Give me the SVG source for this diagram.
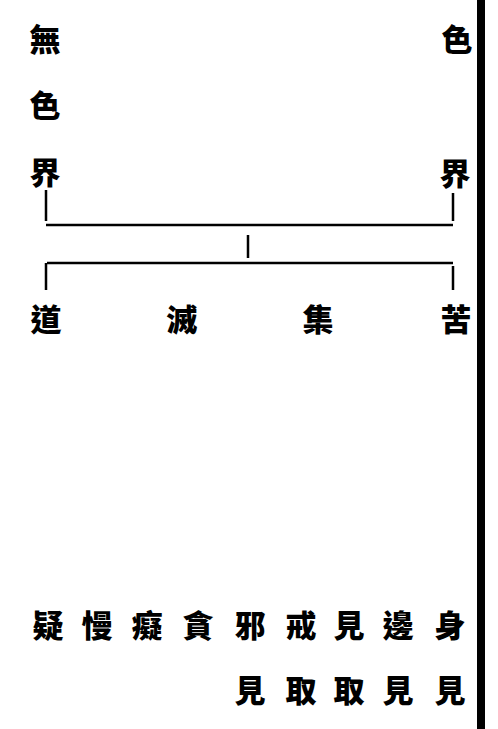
<svg xmlns="http://www.w3.org/2000/svg" width="498" height="729" viewBox="0 0 498 729">
<style>
text{font-family:"Noto Sans CJK TC","Noto Sans CJK SC",sans-serif;font-size:31px;font-weight:900;fill:#000;text-anchor:middle;dominant-baseline:central}
.ln{stroke:#000;stroke-width:2.5;fill:none}
</style>
<rect width="498" height="729" fill="#fff"/>
<rect x="477" y="0" width="8" height="729" fill="#000"/>
<g id="wuse"><text x="45" y="37">無</text><text x="45" y="103">色</text><text x="45" y="170">界</text></g>
<g id="se"><text x="457" y="37">色</text><text x="455" y="171">界</text></g>
<g id="connectors">
<path class="ln" d="M46 190V221M453 193V221M46 225H453M248 235V258M47 263H453M46 263V290M453 266V290"/>
</g>
<g id="dao"><text x="46" y="317">道</text></g>
<g id="mie"><text x="182" y="317">滅</text></g>
<g id="ji"><text x="318" y="317">集</text></g>
<g id="ku"><text x="456" y="317">苦</text></g>
<g id="fetters">
<text x="48" y="623">疑</text>
<text x="97" y="623">慢</text>
<text x="147" y="623">癡</text>
<text x="198" y="623">貪</text>
<text x="250" y="623">邪</text><text x="250" y="688">見</text>
<text x="301" y="623">戒</text><text x="301" y="688">取</text>
<text x="349" y="623">見</text><text x="349" y="688">取</text>
<text x="398" y="623">邊</text><text x="398" y="688">見</text>
<text x="450" y="623">身</text><text x="450" y="688">見</text>
</g>
</svg>
